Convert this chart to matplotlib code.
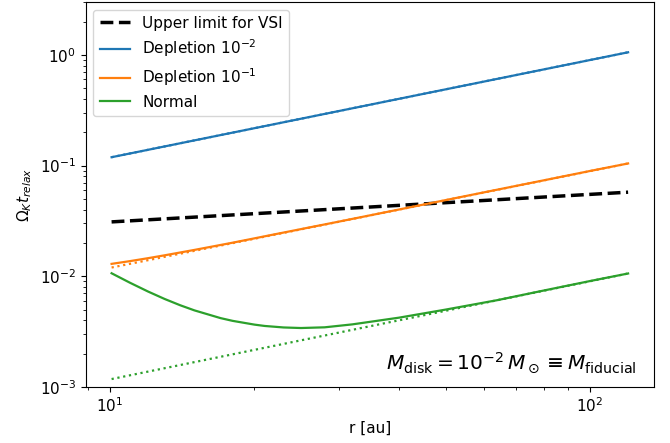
import numpy as np
import matplotlib
matplotlib.use("Agg")
import matplotlib.pyplot as plt

plt.rcParams["font.size"] = 11

# radius end points [au]
r_end = [10.08, 120.0]

# VSI upper limit
vsi_limit = [0.031, 0.0575]

# depletion 1e-2 (full and asymptotic)
dep2_full = [0.119, 1.055]
dep2_asym = [0.119, 1.055]

# depletion 1e-1
dep1_r = [10.08, 11.0, 12.0, 13.0, 15.0, 18.0, 22.0, 30.0, 40.0, 60.0, 80.0, 100.0, 120.0]
dep1_full = [0.01295, 0.0137, 0.01457, 0.01547, 0.01731, 0.0201, 0.0239,
             0.0312, 0.0401, 0.0572, 0.0735, 0.0894, 0.1045]
dep1_asym = [0.0120, 0.1045]

# normal disk
norm_r = [10.08, 11.0, 12.0, 13.0, 14.0, 15.0, 17.0, 18.0, 20.0, 21.0, 23.0,
          25.0, 28.0, 32.0, 40.0, 50.0, 64.0, 80.0, 100.0, 120.0]
norm_full = [0.01065, 0.00876, 0.00729, 0.00624, 0.00548, 0.00492, 0.00419,
             0.00396, 0.00366, 0.00356, 0.00345, 0.00341, 0.00346, 0.00368,
             0.00423, 0.00500, 0.00608, 0.00743, 0.00906, 0.0106]
norm_asym = [0.00118, 0.0106]

fig = plt.figure(figsize=(6.7, 4.43), dpi=100)
ax = fig.add_axes([0.128, 0.1264, 0.848, 0.869])

ax.plot(r_end, vsi_limit, "k--", lw=2.5, label="Upper limit for VSI")
ax.plot(r_end, dep2_full, color="C0", lw=1.6, label=r"Depletion $10^{-2}$")
ax.plot(r_end, dep2_asym, color="C0", lw=1.6, ls=":")
ax.plot(dep1_r, dep1_full, color="C1", lw=1.6, label=r"Depletion $10^{-1}$")
ax.plot(r_end, dep1_asym, color="C1", lw=1.6, ls=":")
ax.plot(norm_r, norm_full, color="C2", lw=1.6, label="Normal")
ax.plot(r_end, norm_asym, color="C2", lw=1.6, ls=":")

ax.set_xscale("log")
ax.set_yscale("log")
ax.set_ylim(1e-3, 3)
ax.set_xlabel("r [au]")
ax.set_ylabel(r"$\Omega_K t_{relax}$")
ax.legend(loc="upper left", labelspacing=0.45)
ax.text(0.97, 0.03, r"$M_\mathrm{disk} = 10^{-2}\,M_\odot \equiv M_\mathrm{fiducial}$",
        transform=ax.transAxes, ha="right", va="bottom", fontsize=14.5)

fig.savefig("out.png", dpi=100)
